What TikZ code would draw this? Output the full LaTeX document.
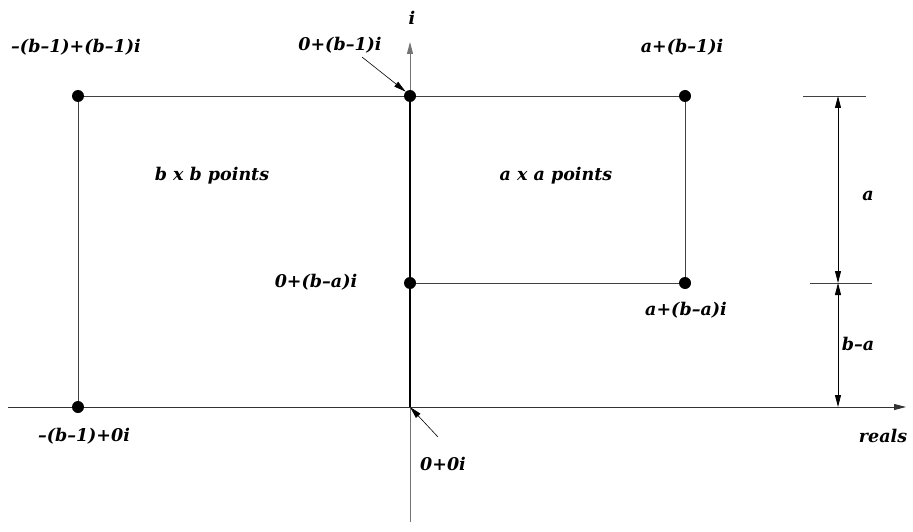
\documentclass[tikz,border=0pt]{standalone}
\usepackage{fontspec}
\setmainfont{DejaVu Serif}
\usetikzlibrary{arrows.meta, positioning}

\begin{document}
\begin{tikzpicture}[x=1pt, y=-1pt,
    dot/.style={circle, fill=black, inner sep=0pt, minimum size=12pt},
    lbl/.style={font=\fontsize{17.5}{20}\selectfont\bfseries\itshape, inner sep=1pt},
    axis/.style={draw=black!55, line width=0.9pt},
    edge/.style={draw=black!75, line width=0.8pt},
    tip/.style={-{Triangle[length=12pt, width=6pt]}},
    dim/.style={{Triangle[length=12pt, width=6pt]}-{Triangle[length=12pt, width=6pt]}, draw=black, line width=0.8pt}
]
    \useasboundingbox (0,0) rectangle (913,532);

    % axes
    \coordinate (xl) at (8,407);
    \coordinate (xr) at (906,407);
    \coordinate (yb) at (410,522);
    \coordinate (yt) at (410,42);
    \draw[axis, draw=black!80, tip] (xl) -- (xr);
    \draw[axis, tip] (yb) -- (yt);

    % points
    \node[dot] (tl) at (78,96) {};
    \node[dot] (tm) at (410,96) {};
    \node[dot] (tr) at (685,96) {};
    \node[dot] (mm) at (410,283) {};
    \node[dot] (mr) at (685,283) {};
    \node[dot] (bl) at (78,407) {};
    \coordinate (o) at (410,407);

    % squares
    \draw[edge] (tl) -- (tm) -- (tr) -- (mr) -- (mm);
    \draw[edge] (tl) -- (bl);
    \draw[draw=black, line width=1.1pt] (tm) -- (o);

    % labels
    \node[lbl] (ilbl) at (412,18) {i};
    \node[lbl] (rlbl) at (883,436) {reals};
    \node[lbl] (ltl) at (76,47) {–(b–1)+(b–1)i};
    \node[lbl] (ltm) at (340,45) {0+(b–1)i};
    \node[lbl] (ltr) at (682,47) {a+(b–1)i};
    \node[lbl] (lmm) at (316,282) {0+(b–a)i};
    \node[lbl] (lmr) at (686,310) {a+(b–a)i};
    \node[lbl] (lbl0) at (84,436) {–(b–1)+0i};
    \node[lbl] (lo) at (443,464) {0+0i};
    \node[lbl] (bb) at (212,176) {b x b points};
    \node[lbl] (aa) at (556,176) {a x a points};

    % pointers
    \coordinate (p1) at (362,57);
    \coordinate (p2) at (438,437);
    \draw[black, line width=0.6pt, tip] (p1) -- (tm.north west);
    \draw[black, line width=0.6pt, tip] (p2) -- (o);

    % dimensions
    \coordinate (d0) at (838,96);
    \coordinate (d1) at (838,283);
    \coordinate (d2) at (838,407);
    \draw[edge] (803,96) -- (866,96);
    \draw[edge] (810,283) -- (872,283);
    \draw[dim] (d0) -- (d1);
    \draw[dim] (d1) -- (d2);
    \node[lbl] (la) at (868,196) {a};
    \node[lbl] (lba) at (858,344) {b–a};
\end{tikzpicture}
\end{document}
